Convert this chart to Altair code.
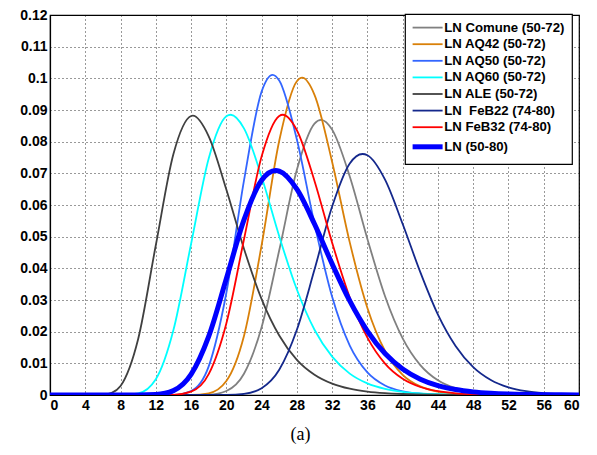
import altair as alt
import pandas as pd

series_names = [
    "LN Comune (50-72)",
    "LN AQ42 (50-72)",
    "LN AQ50 (50-72)",
    "LN AQ60 (50-72)",
    "LN ALE (50-72)",
    "LN \u00a0FeB22 (74-80)",
    "LN FeB32 (74-80)",
    "LN (50-80)",
]
series_colors = ["#808080", "#D98009", "#3366FF", "#00FFFF", "#404040", "#14288C", "#FF0000", "#0000FF"]

comune_x = [0, 16, 18, 20, 22, 24, 26, 28, 30, 30.75, 32, 34, 36, 38, 40, 42, 44, 46, 48, 50, 52, 54, 56, 60]
comune_y = [0, 0.0, 0.0001, 0.00127, 0.00671, 0.0214, 0.0457, 0.0711, 0.0857, 0.0869, 0.0838, 0.069,
            0.0493, 0.0312, 0.0179, 0.00945, 0.00464, 0.00214, 0.00094, 0.00039, 0.00016, 0.00006, 0, 0]

aq42_x = [0, 16, 18, 20, 22, 24, 26, 28, 28.6, 30, 32, 34, 36, 38, 40, 42, 44, 46, 48, 50, 52, 60]
aq42_y = [0, 0.00003, 0.00053, 0.00439, 0.0186, 0.0473, 0.0803, 0.0991, 0.1002, 0.0948, 0.0736, 0.0482,
          0.0275, 0.0139, 0.00639, 0.00271, 0.00107, 0.0004, 0.00014, 0.00005, 0.00002, 0]

aq50_x = [0, 12, 14, 16, 18, 20, 22, 24, 25.25, 26, 28, 30, 32, 34, 36, 38, 40, 42, 44, 46, 48, 60]
aq50_y = [0, 0, 0.00007, 0.00126, 0.00904, 0.0322, 0.0677, 0.0958, 0.1011, 0.0993, 0.0807, 0.054,
          0.031, 0.0156, 0.00712, 0.00298, 0.00117, 0.00043, 0.00015, 0.00005, 0, 0]

aq60_x = [0, 8, 10, 12, 14, 16, 18, 20, 20.5, 22, 24, 26, 28, 30, 32, 34, 36, 38, 40, 42, 44, 46, 48, 50, 54, 60]
aq60_y = [0, 0.00001, 0.0005, 0.00495, 0.0205, 0.0477, 0.0747, 0.088, 0.0885, 0.0842, 0.0689, 0.0501,
          0.0333, 0.0206, 0.0121, 0.00674, 0.00365, 0.00192, 0.00099, 0.0005, 0.00025, 0.00012,
          0.00006, 0.00003, 0.00001, 0]

ale_x = [0, 4, 6, 7, 8, 10, 12, 14, 16, 16.2, 18, 20, 22, 24, 26, 28, 30, 32, 34, 36, 38, 40, 44, 48, 52, 60]
ale_y = [0, 0, 0.0001, 0.00068, 0.00283, 0.0177, 0.0473, 0.0761, 0.0881, 0.0882, 0.0817, 0.0649,
         0.0462, 0.0303, 0.0188, 0.0111, 0.0064, 0.00359, 0.00198, 0.00108, 0.00058, 0.00031,
         0.00009, 0.00003, 0.00001, 0]

feb22_x = [0, 18, 20, 22, 24, 26, 28, 30, 32, 34, 35.45, 36, 38, 40, 42, 44, 46, 48, 50, 52, 54, 56, 58, 60]
feb22_y = [0, 0, 0.00003, 0.00037, 0.00215, 0.00799, 0.0206, 0.0396, 0.0595, 0.0731, 0.0761, 0.0757,
           0.068, 0.054, 0.0388, 0.0254, 0.0155, 0.00882, 0.00475, 0.00243, 0.00119, 0.00056,
           0.00026, 0.00011]

feb32_x = [0, 12, 14, 16, 18, 20, 22, 24, 26, 26.4, 28, 30, 32, 34, 36, 38, 40, 42, 44, 46, 48, 50, 52, 54, 60]
feb32_y = [0, 0, 0.00007, 0.00104, 0.00658, 0.0226, 0.0491, 0.0753, 0.0881, 0.0885, 0.0836, 0.0676,
           0.0481, 0.0308, 0.0181, 0.0099, 0.00511, 0.00252, 0.00119, 0.00054, 0.00024, 0.00011,
           0.00004, 0.00002, 0]

ln_x = [0, 10, 12, 14, 16, 18, 20, 22, 24, 25.6, 26, 28, 30, 32, 34, 36, 38, 40, 42, 44, 46, 48, 50,
        52, 54, 56, 58, 60]
ln_y = [0, 0.000005, 0.00014, 0.00138, 0.0065, 0.0185, 0.0367, 0.0553, 0.0678, 0.0709, 0.0707, 0.065,
        0.054, 0.0414, 0.0297, 0.0202, 0.0131, 0.00822, 0.005, 0.00297, 0.00173, 0.00099, 0.00056,
        0.00031, 0.00017, 0.00009, 0.00005, 0.00003]

x_ticks = list(range(0, 61, 4))
y_ticks = [0, 0.01, 0.02, 0.03, 0.04, 0.05, 0.06, 0.07, 0.08, 0.09, 0.1, 0.11, 0.12]

all_x = [comune_x, aq42_x, aq50_x, aq60_x, ale_x, feb22_x, feb32_x, ln_x]
all_y = [comune_y, aq42_y, aq50_y, aq60_y, ale_y, feb22_y, feb32_y, ln_y]

rows = []
for name, xs, ys in zip(series_names, all_x, all_y):
    for j, (xv, yv) in enumerate(zip(xs, ys)):
        rows.append({"series": name, "x": xv, "y": yv, "k": j})
df = pd.DataFrame(rows)
df_others = df[df["series"] != series_names[-1]]
df_ln = df[df["series"] == series_names[-1]]

color_scale = alt.Scale(domain=series_names, range=series_colors)

legend_cfg = dict(
    title=None,
    orient="none",
    legendX=355,
    legendY=-1,
    symbolType="M-5,0H5",
    symbolSize=36,
    symbolOffset=9,
    labelOffset=10,
    padding=7,
    rowPadding=2.6,
    symbolStrokeWidth=alt.ExprRef("datum.value === 'LN (50-80)' ? 5 : 1.8"),
)

def make(data, sw):
    return alt.Chart(data).mark_line(interpolate="monotone", clip=True, strokeWidth=sw).encode(
        x=alt.X("x:Q", scale=alt.Scale(domain=[0, 60], nice=False),
                axis=alt.Axis(values=x_ticks, title=None, format="~g")),
        y=alt.Y("y:Q", scale=alt.Scale(domain=[0, 0.12], nice=False),
                axis=alt.Axis(values=y_ticks, title=None, format="~g")),
        color=alt.Color("series:N", scale=color_scale, legend=alt.Legend(**legend_cfg)),
        order=alt.Order("k:Q"),
    )

chart = alt.layer(make(df_others, 1.8), make(df_ln, 5)).properties(
    width=529,
    height=380,
    autosize=alt.AutoSizeParams(type="none"),
    padding={"left": 50, "top": 15, "right": 18, "bottom": 60},
    title=alt.TitleParams("(a)", orient="bottom", font="Liberation Serif", fontSize=18,
                          fontWeight="normal", color="black", offset=14, dx=-14),
).configure_view(
    stroke="black", strokeWidth=1.2
).configure_axis(
    labelFont="Liberation Sans", labelFontWeight="bold", labelFontSize=14, labelColor="black",
    grid=True, gridColor="black", gridDash=[1, 3], gridOpacity=0.8, gridWidth=1,
    domainColor="black", domainWidth=1.2, ticks=False, labelPadding=3,
).configure_legend(
    strokeColor="black", fillColor="white", strokeWidth=1.2,
    labelFont="Liberation Sans", labelFontWeight="bold", labelFontSize=13.2, labelColor="black",
    labelLimit=300,
)

chart.save("out.html", embed_options={"renderer": "svg", "actions": False})
